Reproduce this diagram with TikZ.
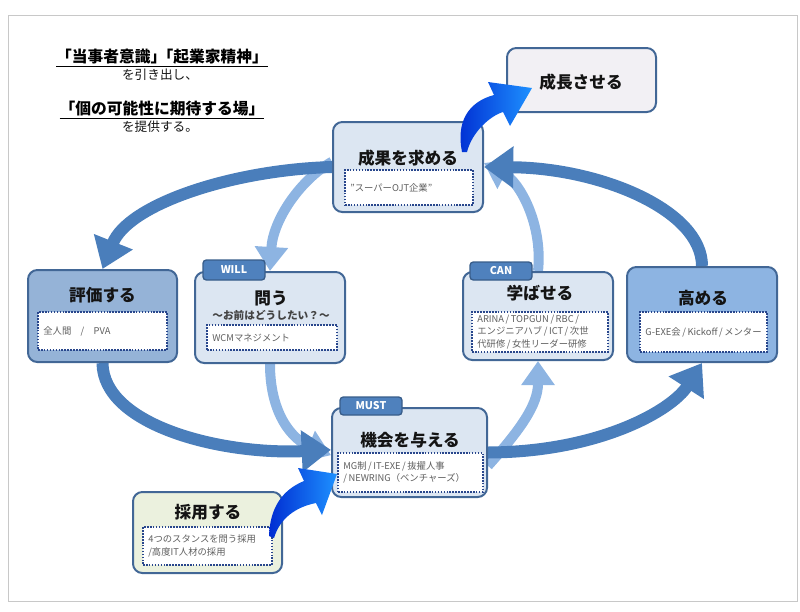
\documentclass[tikz,border=0pt]{standalone}
\usepackage{fontspec}
\setmainfont{Noto Sans CJK JP}
\usetikzlibrary{arrows.meta,backgrounds}

\definecolor{boxline}{RGB}{66,103,150}
\definecolor{lightfill}{RGB}{220,230,242}
\definecolor{darkfill}{RGB}{149,179,215}
\definecolor{midfill}{RGB}{141,180,226}
\definecolor{greyfill}{RGB}{242,240,244}
\definecolor{greenfill}{RGB}{235,241,222}
\definecolor{tabfill}{RGB}{79,129,189}
\definecolor{tabline}{RGB}{56,93,138}
\definecolor{noteline}{RGB}{40,70,140}
\definecolor{notetext}{RGB}{95,95,95}
\definecolor{titletext}{RGB}{20,20,20}
\definecolor{outerblue}{RGB}{74,126,187}
\definecolor{innerblue}{RGB}{141,180,226}
\definecolor{brightdark}{RGB}{0,45,210}
\definecolor{brightlight}{RGB}{30,145,255}
\definecolor{framegrey}{RGB}{200,200,200}

\begin{document}
\begin{tikzpicture}[x=0.75pt,y=0.75pt,yscale=-1,xscale=1,
  box/.style={draw=boxline,line width=1.5pt,rounded corners=7pt,inner sep=0pt},
  tabbox/.style={draw=tabline,fill=tabfill,line width=1pt,rounded corners=2.5pt,inner sep=0pt,text=white,font=\fontsize{8}{9}\selectfont\bfseries},
  note/.style={draw=noteline,fill=white,densely dotted,line width=1.2pt,inner xsep=4pt,inner ysep=0pt,text=notetext,font=\fontsize{7}{9.5}\selectfont,align=left},
  title/.style={font=\fontsize{12.5}{15}\selectfont\bfseries,text=titletext,inner sep=0.75pt},
  outerarrow/.style={draw=outerblue,line width=9pt,-{Triangle[width=30pt,length=22pt]}},
  innerarrow/.style={draw=innerblue,line width=7.5pt,-{Triangle[width=24pt,length=18pt]}},
]
\useasboundingbox (0,0) rectangle (800,611);
%frame
\draw [framegrey,line width=0.75pt] (8,15) rectangle (797,601);

%heading
\node (head1) at (162,58) [inner sep=0.75pt,font=\fontsize{11.8}{14}\selectfont\bfseries] {\underline{「当事者意識」\kern-0.55em「起業家精神」}};
\node (head2) at (160,75) [inner sep=0.75pt,font=\fontsize{9.5}{11}\selectfont,text=titletext] {を引き出し、};
\node (head3) at (162,110) [inner sep=0.75pt,font=\fontsize{11.8}{14}\selectfont\bfseries] {\underline{「個の可能性に期待する場」}};
\node (head4) at (160,127) [inner sep=0.75pt,font=\fontsize{9.5}{11}\selectfont,text=titletext] {を提供する。};

%Boxes
\node (seichou) at (581.5,80) [box,fill=greyfill,minimum width=111.75pt,minimum height=48pt] {};
\node (kekka) at (408,167) [box,fill=lightfill,minimum width=112.5pt,minimum height=67.5pt] {};
\node (hyouka) at (102.5,316) [box,fill=darkfill,minimum width=111.75pt,minimum height=69pt] {};
\node (tou) at (270,317.5) [box,fill=lightfill,minimum width=112.5pt,minimum height=68.25pt] {};
\node (manabaseru) at (538,316) [box,fill=lightfill,minimum width=112.5pt,minimum height=66pt] {};
\node (takameru) at (702,314.5) [box,fill=midfill,minimum width=112.5pt,minimum height=71.25pt] {};
\node (kikai) at (409.5,452.5) [box,fill=lightfill,minimum width=116.25pt,minimum height=66.75pt] {};
\node (saiyou) at (207.5,532.5) [box,fill=greenfill,minimum width=111.75pt,minimum height=60.75pt] {};

%Tabs
\node (willTab) at (234,270) [tabbox,minimum width=46.5pt,minimum height=15pt] {WILL};
\node (canTab) at (501,271) [tabbox,minimum width=46.5pt,minimum height=13.5pt] {CAN};
\node (mustTab) at (371,406) [tabbox,minimum width=46.5pt,minimum height=13.5pt] {MUST};

%Titles
\node (seichouTitle) at (581,82) [title] {成長させる};
\node (kekkaTitle) at (408,158) [title] {成果を求める};
\node (hyoukaTitle) at (102.5,295) [title] {評価する};
\node (touTitle) at (271,298) [title] {問う};
\node (touSub) at (271,315) [inner sep=0.75pt,font=\fontsize{8}{9}\selectfont\bfseries,text=notetext!70!black] {～お前はどうしたい？～};
\node (manabaseruTitle) at (540,293) [title] {学ばせる};
\node (takameruTitle) at (703,298) [title] {高める};
\node (kikaiTitle) at (410,440) [title] {機会を与える};
\node (saiyouTitle) at (208,512) [title] {採用する};

%Notes
\node (kekkaNote) at (409,187.5) [note,text width=88pt,minimum height=26.25pt] {”スーパーOJT企業”};
\node (hyoukaNote) at (102.5,331) [note,text width=88.75pt,minimum height=28.5pt] {全人間　/　PVA};
\node (touNote) at (272,337.5) [note,text width=89.5pt,minimum height=18.75pt] {WCMマネジメント};
\node (manabaseruNote) at (540,332) [note,text width=94pt,minimum height=30pt] {ARINA\,/\,TOPGUN\,/\,RBC\,/\\エンジニアハブ\,/\,ICT\,/\,次世\\代研修\,/\,女性リーダー研修};
\node (takameruNote) at (703.5,332) [note,text width=87.25pt,minimum height=30pt,align=center] {G-EXE会\,/\,Kickoff\,/\,メンター};
\node (kikaiNote) at (410.5,472.5) [note,text width=100.75pt,minimum height=29.25pt] {MG制\,/\,IT-EXE\,/\,抜擢人事\\/\,NEWRING（ベンチャーズ）};
\node (saiyouNote) at (207.5,546) [note,text width=88.75pt,minimum height=28.5pt] {4つのスタンスを問う採用\\/高度IT人材の採用};

%Cycle arrows
\begin{pgfonlayer}{background}
\draw [innerarrow] ([yshift=-4pt]kekka.west) .. controls (300,180) and (273,220) .. (tou.north);
\draw [innerarrow] (tou.south) .. controls (270,415) and (293,440) .. ([yshift=2pt]kikai.west);
\draw [innerarrow] ([yshift=10pt]kikai.east) .. controls (520,430) and (538,405) .. (manabaseru.south);
\draw [innerarrow] (manabaseru.north) .. controls (543,225) and (520,182) .. ([yshift=-3pt]kekka.east);
\draw [outerarrow] (kekka.west) .. controls (230,170) and (128,205) .. (hyouka.north);
\draw [outerarrow] (hyouka.south) .. controls (103,425) and (220,455) .. ([yshift=-2pt]kikai.west);
\draw [outerarrow] (kikai.east) .. controls (600,452) and (672,410) .. (takameru.south);
\draw [outerarrow] (takameru.north) .. controls (702,210) and (600,168) .. (kekka.east);
\end{pgfonlayer}

%Shape: Curved arrow to seichou
\shade [left color=brightdark,right color=brightlight] (462,152) .. controls (456,122) and (468,102) .. (494,95) -- (488,82) -- (532,88) -- (510,126) -- (503,112) .. controls (490,116) and (472,132) .. (467,152) -- cycle;
%Shape: Curved arrow to kikai
\shade [left color=brightdark,right color=brightlight] (269,536) .. controls (270,508) and (282,490) .. (304,481) -- (298,468) -- (337,474) -- (322,515) -- (316,503) .. controls (296,507) and (280,518) .. (274,538) -- cycle;

\end{tikzpicture}
\end{document}
